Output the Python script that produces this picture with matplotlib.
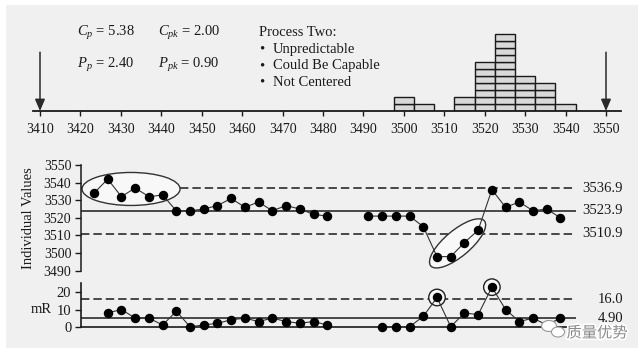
import numpy as np
import matplotlib
matplotlib.use("Agg")
import matplotlib.pyplot as plt
import matplotlib.patheffects as pe
from matplotlib.patches import Ellipse, Rectangle
from matplotlib.transforms import ScaledTranslation

# ---- data ----
# individual values, one per sample (nan = missing samples 18 and 19)
values = [3534, 3542, 3532, 3537, 3532, 3533, 3524, 3524, 3525, 3527,
          3531, 3526, 3529, 3524, 3527, 3525, 3522, 3521, np.nan, np.nan,
          3521, 3521, 3521, 3521, 3515, 3498, 3498, 3506, 3513, 3536,
          3526, 3529, 3524, 3525, 3520]
# moving ranges (first one and those after the gap are undefined)
moving_ranges = [np.nan, 8, 10, 5, 5, 1, 9, 0, 1, 2, 4, 5, 3, 5, 3, 2, 3, 1,
                 np.nan, np.nan, np.nan, 0, 0, 0, 6, 17, 0, 8, 7, 23, 10, 3, 5, 1, 5]
# limits
x_limits = [3536.9, 3523.9, 3510.9]      # UNPL, centre line, LNPL
mr_limits = [16.0, 4.90]                  # URL, average mR
# histogram (bins of width 5)
hist_centers = [3500, 3505, 3515, 3520, 3525, 3530, 3535, 3540]
hist_counts = [2, 1, 2, 7, 11, 5, 4, 1]
spec_limits = [3410, 3550]
hist_ticks = list(range(3410, 3551, 10))
ind_ticks = list(range(3490, 3551, 10))
mr_ticks = [0, 10, 20]
# annotations: points that are circled
circled_mr = [25, 29]

W, H = 644, 353
plt.rcParams['font.family'] = ['Liberation Serif', 'DejaVu Serif']
plt.rcParams['mathtext.fontset'] = 'custom'
plt.rcParams['mathtext.rm'] = 'Liberation Serif'
plt.rcParams['mathtext.it'] = 'Liberation Serif:italic'
plt.rcParams['font.size'] = 10

fig = plt.figure(figsize=(W / 100, H / 100), dpi=100)
fig.patch.set_facecolor('white')
# light grey panel
fig.patches.append(Rectangle((6 / W, 1 - 348 / H), (638 - 6) / W, (348 - 5) / H,
                             transform=fig.transFigure, facecolor='#f0f0f0',
                             edgecolor='none', zorder=-10))


def box(left, top, right, bottom):
    return [left / W, 1 - bottom / H, (right - left) / W, (bottom - top) / H]


ink = '#1a1a1a'

# ---- histogram on top ----
axh = fig.add_axes(box(33, 13, 621, 111))
axh.set_facecolor('none')
for c, n in zip(hist_centers, hist_counts):
    for k in range(n):
        axh.bar(c, 1, width=5, bottom=k, color='#d9d9d9', edgecolor=ink, linewidth=1.0)
axh.set_xlim(3410 - 7 / 4.043, 3550 + 15 / 4.043)
axh.set_ylim(0, 14)
for s in ['left', 'right', 'top']:
    axh.spines[s].set_visible(False)
axh.spines['bottom'].set_linewidth(1.3)
axh.spines['bottom'].set_color(ink)
axh.set_yticks([])
axh.set_xticks(hist_ticks)
axh.tick_params(axis='x', direction='out', length=3.5, width=1, colors=ink, pad=5,
                labelsize=10)
for s in spec_limits:
    axh.annotate('', xy=(s, 0), xytext=(s, 8.4),
                 arrowprops=dict(arrowstyle='-|>,head_length=0.7,head_width=0.3',
                                 color='#2a2a2a', lw=1.1, shrinkA=0, shrinkB=0))

def ftext(x, y, s, **kw):
    fig.text(x / W, 1 - y / H, s, va='center', color=ink, **kw)

ftext(77, 33, r'$C_p$ = 5.38', fontsize=10.5)
ftext(158, 33, r'$C_{pk}$ = 2.00', fontsize=10.5)
ftext(77, 65, r'$P_p$ = 2.40', fontsize=10.5)
ftext(158, 65, r'$P_{pk}$ = 0.90', fontsize=10.5)
ftext(259, 33, 'Process Two:', fontsize=10.5)
for i, line in enumerate(['Unpredictable', 'Could Be Capable', 'Not Centered']):
    ftext(259, 49 + 16.7 * i, '\u2022', fontsize=10.5)
    ftext(273, 49 + 16.7 * i, line, fontsize=10.5)

# ---- individual values chart ----
idx = np.arange(len(values))
x0, dx = 94, 13.72
xl = ((81 - x0) / dx, (576 - x0) / dx)

axi = fig.add_axes(box(81, 165, 576, 270.7))
axi.set_facecolor('none')
axi.set_xlim(*xl)
axi.set_ylim(3490, 3550)
axi.axhline(x_limits[0], xmax=0.994, color=ink, lw=1.1, dashes=(5.5, 2.6))
axi.axhline(x_limits[2], xmax=0.994, color=ink, lw=1.1, dashes=(5.5, 2.6))
axi.axhline(x_limits[1], color=ink, lw=1.1)
axi.plot(idx, values, color='#333333', lw=0.8, marker='o', ms=5.8,
         mfc='black', mec='black', zorder=5, clip_on=False)
for s in ['right', 'top', 'bottom']:
    axi.spines[s].set_visible(False)
axi.spines['left'].set_color(ink)
axi.spines['left'].set_linewidth(1.1)
axi.set_xticks([])
axi.set_yticks(ind_ticks)
axi.tick_params(axis='y', direction='out', length=4, width=1, colors=ink, pad=3,
                labelsize=10)
axi.set_ylabel('Individual Values', fontsize=10.5, color=ink, labelpad=6)
for v in x_limits:
    axi.text(1.0 + 47 / 495, v, f'{v:.1f}', transform=axi.get_yaxis_transform(),
             ha='right', va='center', fontsize=10.5, color=ink)

# ellipses around the runs of interest
tr1 = fig.dpi_scale_trans + ScaledTranslation(2.7, 3536.4, axi.transData)
axi.add_patch(Ellipse((0, 0), 0.98, 0.33, transform=tr1, facecolor='#f8f8f8',
                      edgecolor='#333333', lw=1.0, zorder=2))
tr2 = fig.dpi_scale_trans + ScaledTranslation(26.5, 3505.5, axi.transData)
axi.add_patch(Ellipse((0, 0), 0.70, 0.26, angle=40, transform=tr2, facecolor='#f8f8f8',
                      edgecolor='#333333', lw=1.0, zorder=2, clip_on=False))

# ---- moving range chart ----
axm = fig.add_axes(box(81, 282.7, 576, 326.7))
axm.set_facecolor('none')
axm.set_xlim(*xl)
axm.set_ylim(0, 25.6)
axm.axhline(mr_limits[0], xmax=0.994, color=ink, lw=1.1, dashes=(5.5, 2.6))
axm.axhline(mr_limits[1], color=ink, lw=1.1)
axm.plot(idx, moving_ranges, color='#333333', lw=0.8, marker='o', ms=5.8,
         mfc='black', mec='black', zorder=5, clip_on=False)
for i in circled_mr:
    tr = fig.dpi_scale_trans + ScaledTranslation(i, moving_ranges[i], axm.transData)
    axm.add_patch(Ellipse((0, 0), 0.165, 0.165, transform=tr, facecolor='#f8f8f8',
                          edgecolor='#222222', lw=1.0, zorder=3, clip_on=False))
for s in ['right', 'top']:
    axm.spines[s].set_visible(False)
for s in ['left', 'bottom']:
    axm.spines[s].set_color(ink)
    axm.spines[s].set_linewidth(1.2)
axm.set_xticks([])
axm.set_yticks(mr_ticks)
axm.tick_params(axis='y', direction='out', length=4, width=1, colors=ink, pad=3,
                labelsize=10.5)
axm.text(-0.102, 10, 'mR', transform=axm.get_yaxis_transform(), ha='left',
         va='center', fontsize=10.5, color=ink)
for v, lab in zip(mr_limits, ['16.0', '4.90']):
    axm.text(1.0 + 47 / 495, v, lab, transform=axm.get_yaxis_transform(),
             ha='right', va='center', fontsize=10.5, color=ink)

# watermark
fig.patches.append(Ellipse((549 / W, 1 - 326 / H), 15 / W, 11 / H, transform=fig.transFigure,
                           facecolor='white', edgecolor='#999999', lw=0.8, zorder=10))
fig.patches.append(Ellipse((558 / W, 1 - 332 / H), 13 / W, 10 / H, transform=fig.transFigure,
                           facecolor='white', edgecolor='#999999', lw=0.8, zorder=10))
fig.text(597 / W, 1 - 333 / H, '质量优势', family=['Noto Sans CJK SC', 'DejaVu Sans'],
         fontsize=11, color='#8a8a8a', ha='center', va='center', zorder=11,
         path_effects=[pe.withStroke(linewidth=2.5, foreground='white')])

fig.savefig('out.png', dpi=100, facecolor=fig.get_facecolor())
